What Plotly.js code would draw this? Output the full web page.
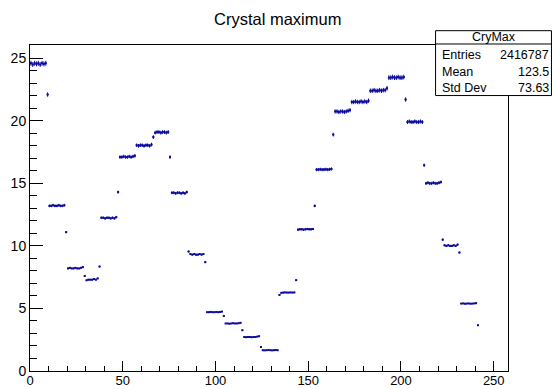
<!DOCTYPE html>
<html><head><meta charset="utf-8">
<script src="https://cdn.plot.ly/plotly-3.0.1.min.js"></script>
<style>html,body{margin:0;padding:0;background:#fff}#plot{width:553px;height:389px}</style>
</head><body><div id="plot"></div>
<script>
// Profile values per crystal bin (bin i has centre i+0.5)
const binValues = [
  24.6,24.5,24.6,24.55,24.6,24.5,24.6,24.55,24.6, 22.1,
  13.2,13.2,13.25,13.2,13.2,13.25,13.2,13.2,13.25, 11.1,
  8.2,8.25,8.2,8.2,8.25,8.2,8.2,8.25,8.3, 7.6,
  7.25,7.3,7.3,7.3,7.35,7.3,7.4, 8.35,
  12.25,12.25,12.2,12.25,12.25,12.2,12.25,12.2,12.3, 14.3,
  17.1,17.1,17.15,17.1,17.1,17.15,17.1,17.15,17.2,
  18.05,18.0,18.05,18.05,18.0,18.05,18.05,18.0,18.1, 18.7,
  19.05,19.1,19.1,19.05,19.1,19.1,19.05,19.1, 17.1,
  14.25,14.25,14.2,14.25,14.25,14.2,14.25,14.2,14.3, 9.55,
  9.35,9.3,9.35,9.3,9.3,9.35,9.3,9.35, 8.7,
  4.7,4.7,4.72,4.7,4.7,4.72,4.7,4.72,4.75, 4.4,
  3.8,3.8,3.78,3.8,3.82,3.8,3.8,3.82,3.85, 3.26,
  2.72,2.7,2.72,2.72,2.7,2.72,2.72,2.75,2.78, 1.92,
  1.66,1.65,1.66,1.68,1.66,1.65,1.66,1.68,1.66, 6.08,
  6.25,6.27,6.28,6.27,6.27,6.28,6.27,6.28, 7.26,
  11.3,11.33,11.33,11.3,11.33,11.35,11.33,11.33,11.35, 13.2,
  16.1,16.1,16.12,16.1,16.1,16.12,16.1,16.12,16.15, 18.9,
  20.75,20.75,20.7,20.75,20.75,20.7,20.75,20.8,20.85,
  21.5,21.5,21.55,21.5,21.5,21.55,21.5,21.55,21.5,21.6,
  22.4,22.4,22.45,22.4,22.4,22.45,22.4,22.45,22.45, 22.6,
  23.45,23.45,23.5,23.45,23.45,23.5,23.45,23.45,23.5, 21.7,
  19.9,19.95,19.9,19.9,19.95,19.9,19.9,19.95,19.9, 16.45,
  15.0,15.05,15.0,15.0,15.05,15.0,15.0,15.05,15.1, 10.5,
  10.05,10.0,10.05,10.0,10.0,10.05,10.0,10.1, 9.47,
  5.39,5.4,5.38,5.39,5.4,5.38,5.39,5.4,5.42, 3.66
];
const binCenters = binValues.map((v, i) => i + 0.5);

const histName = "CryMax";
const statLabels = ["Entries", "Mean", "Std Dev"];
const statValues = ["2416787", "123.5", "73.63"];
const chartTitle = "Crystal maximum";

const W = 553, H = 389;
const M = {l: 30, r: 44.5, t: 45, b: 18.3};
const PW = W - M.l - M.r, PH = H - M.t - M.b;
const px = x => (x - M.l) / PW;
const py = y => (H - M.b - y) / PH;

const col = '#0b0b9c';
const font = '"Liberation Sans", Arial, sans-serif';

const trace = {
  type: 'scatter', mode: 'markers',
  x: binCenters, y: binValues,
  marker: {color: col, size: 2, symbol: 'square'},
  error_x: {type: 'constant', value: 0.5, width: 0, thickness: 1, color: col},
  error_y: {type: 'percent', value: 0.8, width: 0, thickness: 1, color: col},
  hoverinfo: 'x+y'
};

const bx0 = 436, bx1 = 552, by0 = 30.7, byH = 44, by1 = 95.5;
const shapes = [
  {type: 'rect', xref: 'paper', yref: 'paper', x0: px(bx0), x1: px(bx1), y0: py(by1), y1: py(by0),
   line: {color: '#000', width: 1}, fillcolor: '#fff'},
  {type: 'line', xref: 'paper', yref: 'paper', x0: px(bx0), x1: px(bx1), y0: py(byH), y1: py(byH),
   line: {color: '#000', width: 1}}
];
const annotations = [
  {xref: 'paper', yref: 'paper', x: px((bx0 + bx1) / 2), y: py(37.5), text: histName, showarrow: false,
   xanchor: 'center', yanchor: 'middle', font: {family: font, size: 12.5, color: '#000'}}
];
const rowY = [55, 71.5, 88];
statLabels.forEach((lab, i) => {
  annotations.push({xref: 'paper', yref: 'paper', x: px(440), y: py(rowY[i]), text: lab, showarrow: false,
    xanchor: 'left', yanchor: 'middle', font: {family: font, size: 12.5, color: '#000'}});
  annotations.push({xref: 'paper', yref: 'paper', x: px(551.5), y: py(rowY[i]), text: statValues[i], showarrow: false,
    xanchor: 'right', yanchor: 'middle', font: {family: font, size: 12.5, color: '#000'}});
});
annotations.push({xref: 'paper', yref: 'paper', x: px(278), y: py(19), text: chartTitle, showarrow: false,
  xanchor: 'center', yanchor: 'middle', font: {family: font, size: 16.5, color: '#000'}});

const layout = {
  width: W, height: H,
  margin: M,
  paper_bgcolor: '#fff', plot_bgcolor: '#fff',
  showlegend: false,
  font: {family: font, size: 13, color: '#000'},
  xaxis: {range: [0, 257.7], dtick: 50, tick0: 0, ticks: 'inside', ticklen: 10, tickcolor: '#000',
    showgrid: false, zeroline: false, showline: true, linecolor: '#000', linewidth: 1, mirror: true,
    minor: {dtick: 10, ticks: 'inside', ticklen: 5, tickcolor: '#000', showgrid: false},
    ticklabelstandoff: -3,
    tickfont: {size: 13, family: font}},
  yaxis: {range: [0, 26.06], dtick: 5, tick0: 0, ticks: 'inside', ticklen: 13, tickcolor: '#000',
    showgrid: false, zeroline: false, showline: true, linecolor: '#000', linewidth: 1, mirror: true,
    minor: {dtick: 1, ticks: 'inside', ticklen: 7, tickcolor: '#000', showgrid: false},
    tickfont: {size: 14, family: font}},
  shapes: shapes,
  annotations: annotations
};
Plotly.newPlot('plot', [trace], layout, {staticPlot: true});
</script></body></html>
